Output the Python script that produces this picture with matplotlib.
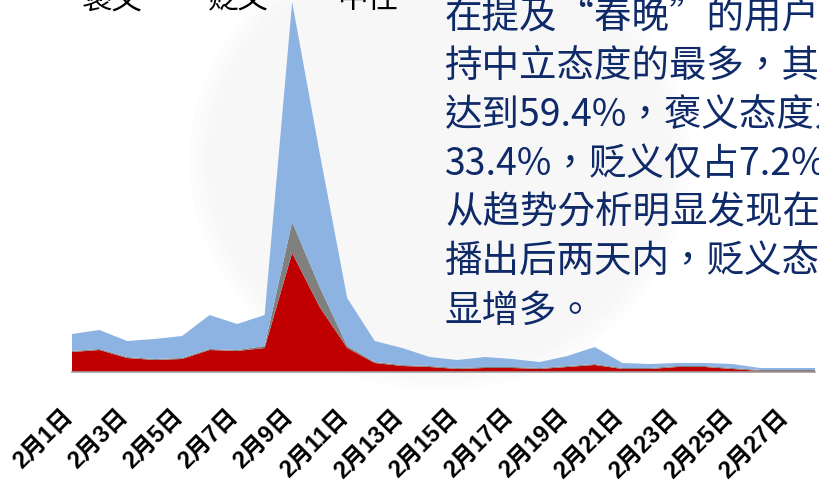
import matplotlib.pyplot as plt
import matplotlib.transforms as mtransforms
from matplotlib.patches import Ellipse
import numpy as np

plt.rcParams['font.family'] = ['Noto Sans CJK SC', 'DejaVu Sans']

# 2月1日 - 2月28日
dates = [f'2月{d}日' for d in range(1, 29)]
pos = [20, 22, 14, 12, 13, 22, 21, 24, 119, 65, 24, 9, 6, 5, 3, 4, 4, 3, 5, 7, 3, 3, 5, 5, 3, 1, 1, 1]
neg = [1, 1, 1, 1, 1, 1, 1, 2, 31, 20, 2, 1, 1, 1, 1, 1, 1, 1, 1, 1, 1, 1, 1, 1, 1, 1, 1, 1]
neu = [17, 19, 16, 20, 22, 34, 26, 31, 220, 134, 48, 21, 17, 9, 8, 10, 8, 6, 10, 17, 5, 4, 3, 3, 4, 2, 2, 2]
series_names = ['褒义', '贬义', '中性']
colors = ['#c00000', '#808080', '#8db3e2']

note_lines = ['在提及“春晚”的用户中，',
              '持中立态度的最多，其比例',
              '达到59.4%，褒义态度为',
              '33.4%，贬义仅占7.2%。',
              '从趋势分析明显发现在春晚',
              '播出后两天内，贬义态度明',
              '显增多。']

W, H = 819, 486
fig = plt.figure(figsize=(W / 100, H / 100), dpi=100)

# faint grey disc behind the chart
bg = fig.add_axes([0, 0, 1, 1], zorder=0)
bg.set_xlim(0, W)
bg.set_ylim(H, 0)
bg.axis('off')
for k, c in enumerate(['#fcfcfc', '#fafafa', '#f8f8f8', '#f7f7f7']):
    bg.add_patch(Ellipse((440, 160), 500 - k * 14, 460 - k * 14, fc=c, ec='none'))

ax = fig.add_axes([72 / W, (H - 372) / H, (815 - 72) / W, 372 / H], zorder=1)
ax.patch.set_alpha(0)
x = np.arange(len(dates))
ax.stackplot(x, pos, neg, neu, colors=colors, labels=series_names, lw=0)
ax.set_xlim(0, len(dates) - 1)
ax.set_ylim(0, 372)
ax.set_yticks([])
for s in ['left', 'right', 'top']:
    ax.spines[s].set_visible(False)
ax.spines['bottom'].set_color('#a0a0a0')
ax.spines['bottom'].set_linewidth(1.2)

ax.set_xticks(x[::2], dates[::2])
ax.tick_params(axis='x', length=0, pad=0)
off = mtransforms.ScaledTranslation(-3 / 100, -41 / 100, fig.dpi_scale_trans)
for lab in ax.get_xticklabels():
    lab.set_rotation(45)
    lab.set_rotation_mode('anchor')
    lab.set_ha('right')
    lab.set_va('center')
    lab.set_fontsize(17)
    lab.set_fontweight('bold')
    lab.set_family(['Liberation Sans', 'Noto Sans CJK SC'])
    lab.set_transform(lab.get_transform() + off)

# legend text (clipped at the top of the slide)
for name, cx in zip(series_names, [112, 238, 368]):
    fig.text(cx / W, 1 - 0 / H, name, ha='center', va='center', fontsize=22, color='black')

for i, line in enumerate(note_lines):
    yc = 17 + i * 49
    fig.text(445 / W, 1 - yc / H, line, ha='left', va='center', fontsize=27,
             color='#0f2a68', family=['Noto Sans CJK TC', 'DejaVu Sans'])

fig.savefig('out.png', dpi=100)
